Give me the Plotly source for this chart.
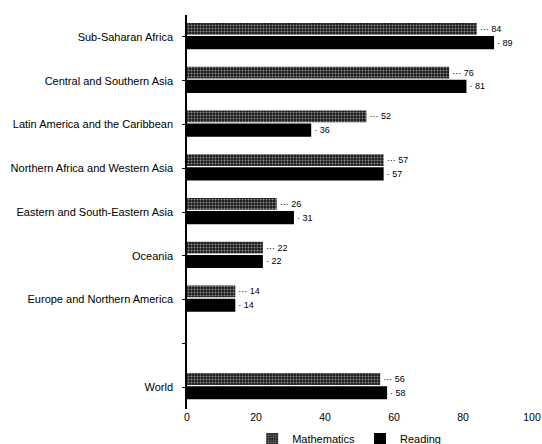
import plotly.graph_objects as go

categories = ["Sub-Saharan Africa", "Central and Southern Asia", "Latin America and the Caribbean",
              "Northern Africa and Western Asia", "Eastern and South-Eastern Asia", "Oceania",
              "Europe and Northern America", " ", "World"]
mathematics = [84, 76, 52, 57, 26, 22, 14, None, 56]
reading = [89, 81, 36, 57, 31, 22, 14, None, 58]
x_ticks = [0, 20, 40, 60, 80, 100]

FONT = "Liberation Sans, Arial, sans-serif"

fig = go.Figure()
fig.add_trace(go.Bar(
    y=categories, x=mathematics, orientation="h", name="Mathematics",
    width=0.27, offset=-0.32,
    marker=dict(color="black", line=dict(width=0),
                pattern=dict(shape=".", fgcolor="white", bgcolor="#1a1a1a", size=3, solidity=0.35)),
    text=[f"··· {v}" if v is not None else "" for v in mathematics],
    textposition="outside", cliponaxis=False,
    textfont=dict(size=9, color="black", family=FONT),
))
fig.add_trace(go.Bar(
    y=categories, x=reading, orientation="h", name="Reading",
    width=0.30, offset=-0.02,
    marker=dict(color="black", line=dict(width=0)),
    text=[f"· {v}" if v is not None else "" for v in reading],
    textposition="outside", cliponaxis=False,
    textfont=dict(size=9, color="black", family=FONT),
))

fig.update_layout(
    width=542, height=444,
    margin=dict(l=187, r=10, t=15, b=35, autoexpand=False),
    paper_bgcolor="white", plot_bgcolor="white",
    font=dict(family=FONT, size=10, color="black"),
    barmode="overlay",
    showlegend=True,
    legend=dict(orientation="h", x=0.47, xanchor="center", y=-0.076, yanchor="middle",
                font=dict(size=11, color="black"),
                traceorder="normal", itemsizing="constant", bgcolor="rgba(0,0,0,0)"),
    xaxis=dict(range=[0, 100], tickvals=x_ticks, showgrid=False, zeroline=False,
               showline=False, ticks="",
               tickfont=dict(size=10.5, color="black")),
    yaxis=dict(categoryorder="array", categoryarray=categories, range=[8.5, -0.5],
               showline=True, linecolor="black", linewidth=1.5, ticks="outside",
               ticklen=3, tickcolor="black", showgrid=False, zeroline=False,
               ticklabelstandoff=7, tickfont=dict(size=11, color="black")),
)

# remove the browser's default page margin so the 542x444 figure fills the window exactly
fig.write_html("out.html",
               config={"displayModeBar": False},
               post_script="document.body.style.margin='0';document.body.style.overflow='hidden';")
